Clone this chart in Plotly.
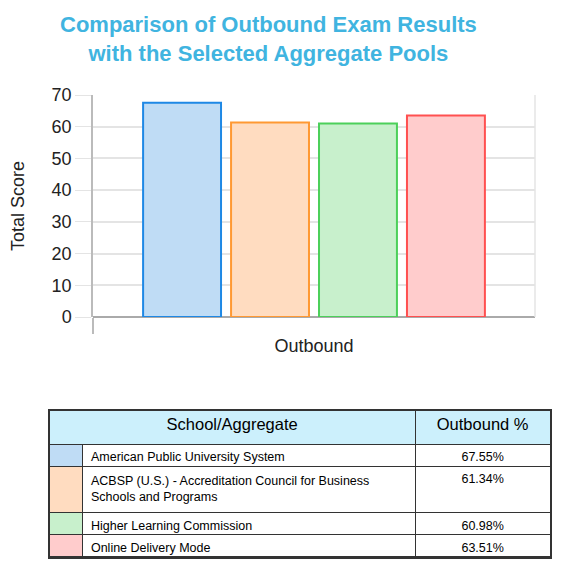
import plotly.graph_objects as go

# data
category = "Outbound"
schools = ["American Public University System",
           "ACBSP (U.S.) - Accreditation Council for Business<br>Schools and Programs",
           "Higher Learning Commission",
           "Online Delivery Mode"]
scores = [67.55, 61.34, 60.98, 63.51]
score_labels = ["67.55%", "61.34%", "60.98%", "63.51%"]
fills = ["#bfdcf5", "#ffdcc0", "#c8f0cc", "#ffcccc"]
edges = ["#1e88e5", "#ff9933", "#4cd05a", "#ff5050"]
y_ticks = [0, 10, 20, 30, 40, 50, 60, 70]

# page has an 8px body margin, so the figure is a bit smaller than the window
OFF = 8
W, H = 561 - 2 * OFF, 573 - 2 * OFF
FONT = "Liberation Sans, Arial, sans-serif"

def px_x(v):
    return (v - OFF) / W

def px_y(v):
    return 1 - (v - OFF) / H

fig = go.Figure()

for name, val, fc, lc in zip(schools, scores, fills, edges):
    fig.add_trace(go.Bar(x=[category], y=[val], name=name.replace("<br>", " "),
                         marker=dict(color=fc, line=dict(color=lc, width=2)),
                         showlegend=False, hoverinfo="y"))

tbl_x = [px_x(49), px_x(551)]
tbl_y = [px_y(564), px_y(410)]

# table body (header row left blank, covered by the header table)
fig.add_trace(go.Table(
    domain=dict(x=tbl_x, y=tbl_y),
    columnwidth=[34, 333, 135],
    header=dict(values=["", "", ""], height=34, fill_color="#ccf0fc",
                line=dict(color="#333333", width=1)),
    cells=dict(values=[["", "", "", ""], schools, score_labels],
               fill_color=[fills, ["white"] * 4, ["white"] * 4],
               align=["left", "left", "center"],
               font=dict(family=FONT, size=12.5, color="black"),
               height=22, line=dict(color="#333333", width=1)),
))

# header with merged first column
fig.add_trace(go.Table(
    domain=dict(x=tbl_x, y=tbl_y),
    columnwidth=[367, 135],
    header=dict(values=["School/Aggregate", "Outbound %"], height=34,
                fill_color="#ccf0fc", align="center",
                font=dict(family=FONT, size=16.5, color="black"),
                line=dict(color="#333333", width=1)),
    cells=dict(values=[[], []]),
))

fig.update_layout(
    width=W, height=H,
    margin=dict(l=0, r=0, t=0, b=0, autoexpand=False),
    paper_bgcolor="white", plot_bgcolor="white",
    font=dict(family=FONT, color="#222222"),
    barmode="group", bargap=0.204, bargroupgap=0.114,
    xaxis=dict(domain=[px_x(93), px_x(535)], type="category",
               tickson="boundaries", ticks="outside", ticklen=16,
               tickcolor="#bbbbbb", tickwidth=1.5, showticklabels=False,
               showgrid=False, showline=False, zeroline=False,
               title=dict(text=category, font=dict(size=18, color="#222222"), standoff=22)),
    yaxis=dict(domain=[px_y(317), px_y(95)], range=[0, 70], tickvals=y_ticks,
               ticks="outside", ticklen=16, tickcolor="#e4e4e4",
               tickfont=dict(size=18, color="#222222"),
               gridcolor="#e4e4e4", gridwidth=1.5,
               showline=True, linecolor="#bbbbbb", linewidth=1.5,
               zeroline=True, zerolinecolor="#aaaaaa", zerolinewidth=2,
               title=dict(text="Total Score", font=dict(size=18, color="#222222"), standoff=24)),
    annotations=[
        dict(text="<b>Comparison of Outbound Exam Results<br>with the Selected Aggregate Pools</b>",
             xref="paper", yref="paper", x=px_x(268), y=px_y(10), xanchor="center", yanchor="top",
             showarrow=False, font=dict(family=FONT, size=22, color="#40b4e0")),
    ],
    shapes=[
        dict(type="line", xref="x domain", yref="y domain", x0=1, x1=1, y0=0, y1=1,
             line=dict(color="#e4e4e4", width=1.5)),
        # heavier outer frame round the table
        dict(type="rect", xref="paper", yref="paper",
             x0=px_x(49), x1=px_x(551), y0=px_y(558), y1=px_y(410),
             line=dict(color="#333333", width=2)),
    ],
)

fig.write_html("out.html")
